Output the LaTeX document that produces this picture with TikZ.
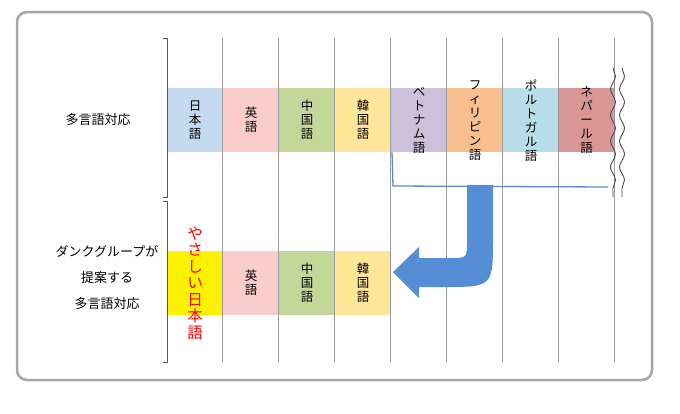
\documentclass[tikz,border=0pt]{standalone}
\usepackage{fontspec}
\setmainfont{Noto Sans CJK JP}
\usetikzlibrary{decorations.pathmorphing}
\definecolor{cb}{HTML}{C5D9F1}
\definecolor{cp}{HTML}{FACDCD}
\definecolor{cg}{HTML}{C4D79B}
\definecolor{cy}{HTML}{FFE699}
\definecolor{cl}{HTML}{CCC0DA}
\definecolor{co}{HTML}{FABF8F}
\definecolor{cc}{HTML}{B7DEE8}
\definecolor{cr}{HTML}{D99694}
\definecolor{ab}{HTML}{558ED5}
\begin{document}
\begin{tikzpicture}[x=1pt,y=-1pt,
  cell/.style={minimum width=56pt,minimum height=64pt,inner sep=0pt,anchor=north west},
  vt/.style={font=\fontsize{12.5}{14}\selectfont,align=center,inner sep=0pt},
  grid/.style={draw=gray!80,line width=0.9pt},
  lab/.style={font=\fontsize{13}{14}\selectfont,align=center}]
\useasboundingbox (0,0) rectangle (680,413);
\draw[gray!70,line width=2.5pt,rounded corners=10pt,fill=white] (17,12) rectangle (652,380);
% cells
\node[cell,fill=cb] (c1) at (167,88) {};
\node[cell,fill=cp] (c2) at (223,88) {};
\node[cell,fill=cg] (c3) at (279,88) {};
\node[cell,fill=cy] (c4) at (335,88) {};
\node[cell,fill=cl] (c5) at (391,88) {};
\node[cell,fill=co] (c6) at (447,88) {};
\node[cell,fill=cc] (c7) at (503,88) {};
\node[cell,fill=cr,minimum width=55pt] (c8) at (559,88) {};
\node[cell,fill=yellow] (d1) at (167,251) {};
\node[cell,fill=cp] (d2) at (223,251) {};
\node[cell,fill=cg] (d3) at (279,251) {};
\node[cell,fill=cy] (d4) at (335,251) {};
% grid
\foreach \x in {222,278,334,390,446,502,558,614} \draw[grid] (\x,38) -- (\x,362);
\draw[gray!70!black,line width=0.9pt] (163,38)--(167,38)--(167,197)--(163,197);
\draw[gray!70!black,line width=0.9pt] (163,201)--(167,201)--(167,362)--(163,362);
% texts
\node[vt] (t1) at (c1.center) {日\\本\\語};
\node[vt] (t2) at (c2.center) {英\\語};
\node[vt] (t3) at (c3.center) {中\\国\\語};
\node[vt] (t4) at (c4.center) {韓\\国\\語};
\node[vt] (t5) at (c5.center) {ベ\\ト\\ナ\\ム\\語};
\node[vt] (t6) at (c6.center) {フ\\ィ\\リ\\ピ\\ン\\語};
\node[vt] (t7) at (c7.center) {ポ\\ル\\ト\\ガ\\ル\\語};
\node[vt] (t8) at (c8.center) {ネ\\パ\\ー\\ル\\語};
\node[vt,text=red,font=\fontsize{15.5}{16.5}\selectfont] (u1) at (d1.center) {や\\さ\\し\\い\\日\\本\\語};
\node[vt] (u2) at (d2.center) {英\\語};
\node[vt] (u3) at (d3.center) {中\\国\\語};
\node[vt] (u4) at (d4.center) {韓\\国\\語};
\node[lab] (l1) at (98,120) {多言語対応};
\node[lab,font=\fontsize{13}{26}\selectfont] (l2) at (107,278) {ダンクグループが\\提案する\\多言語対応};
% bracket
\coordinate (b1) at (392,152);
\coordinate (b2) at (393,186);
\coordinate (b3) at (608,187);
\draw[ab,line width=1.3pt] (b1) -- (b2) -- (b3);
% wavy
\draw[gray!60!black,line width=0.9pt,decorate,decoration={snake,segment length=26pt,amplitude=2.5pt}] (613,68) -- (613,197);
\draw[gray!60!black,line width=0.9pt,decorate,decoration={snake,segment length=26pt,amplitude=2.5pt}] (622,68) -- (622,197);
% arrow
\fill[ab] (467,185)--(493,185)--(493,237) .. controls (493,287) .. (443,287) -- (419,287)--(419,298)--(393,272)--(419,247)--(419,258)--(450,258) .. controls (467,258) .. (467,241) -- cycle;
\end{tikzpicture}
\end{document}
